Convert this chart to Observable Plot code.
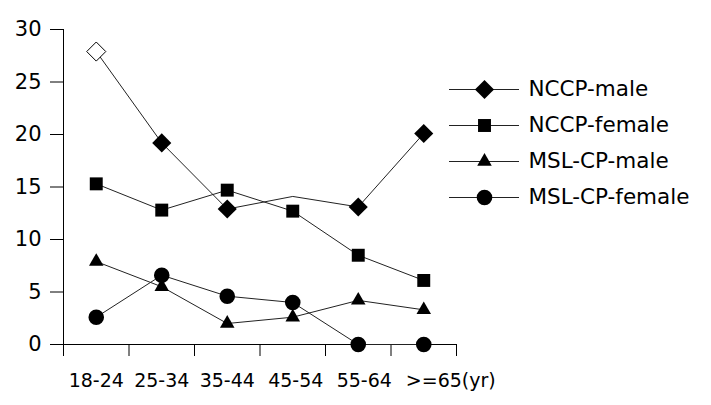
<!DOCTYPE html>
<html><head><meta charset="utf-8">
<script src="https://cdn.jsdelivr.net/npm/d3@7"></script>
<script src="https://cdn.jsdelivr.net/npm/@observablehq/plot@0.6"></script>
<style>
html,body{margin:0;padding:0;background:#fff;}
#wrap{position:relative;width:711px;height:405px;background:#fff;}
#wrap svg{position:absolute;left:0;top:0;}
</style></head><body><div id="wrap"></div>
<script>
const ageGroups = ["18-24","25-34","35-44","45-54","55-64",">=65(yr)"];
const seriesNames = ["NCCP-male","NCCP-female","MSL-CP-male","MSL-CP-female"];
const nccpMale = [27.9,19.2,12.9,14.1,13.1,20.1];
const nccpFemale = [15.3,12.8,14.7,12.7,8.5,6.1];
const mslMale = [7.9,5.5,2.0,2.6,4.2,3.3];
const mslFemale = [2.6,6.6,4.6,4.0,0,0];
const yTicks = [0,5,10,15,20,25,30];

const seriesValues = [nccpMale,nccpFemale,mslMale,mslFemale];
const symbolOf = {"NCCP-male":"diamond2","NCCP-female":"square","MSL-CP-male":"triangle","MSL-CP-female":"circle"};
const rOf = {"NCCP-male":8.6,"NCCP-female":7.3,"MSL-CP-male":5.4,"MSL-CP-female":7.8};

const rows = [];
seriesNames.forEach((s,k)=>seriesValues[k].forEach((v,i)=>rows.push({series:s, age:ageGroups[i], idx:i, pos:i+0.5, value:v})));

// marker display: first NCCP-male point is hollow, the 45-54 NCCP-male point has no marker
const filledRows = rows.filter(d => !(d.series==="NCCP-male" && (d.idx===0 || d.idx===3)));
const hollowRows = rows.filter(d => d.series==="NCCP-male" && d.idx===0);

const font = "'DejaVu Sans', Verdana, sans-serif";

const dotMarks = seriesNames.map(s => Plot.dot(filledRows.filter(d=>d.series===s), {
  x:"pos", y:"value", symbol: ()=>symbolOf[s], r: rOf[s], fill:"#000", stroke:"none"
}));

// category label axis, drawn in groups (the reference's labels drift right toward the end)
const labelAxis = (idxs, dx) => Plot.axisX({
  ticks: idxs.map(i=>i+0.5), tickSize:0, tickPadding:29, fontSize:19, label:null, dx,
  tickFormat: t => ageGroups[Math.round(t-0.5)]
});

const main = Plot.plot({
  width:711, height:405,
  marginLeft:63, marginRight:255, marginTop:29, marginBottom:61,
  style:{fontFamily:font, color:"#000", background:"transparent", overflow:"visible"},
  x:{type:"linear", domain:[0, ageGroups.length], label:null},
  y:{domain:[0,30], label:null},
  symbol:{type:"identity"},
  marks:[
    Plot.ruleY([0], {stroke:"#000"}),
    Plot.frame({anchor:"left", stroke:"#000"}),
    Plot.axisY({ticks:yTicks, tickSize:13, tickPadding:9, fontSize:21, label:null, stroke:"#000"}),
    Plot.axisX({ticks:d3.range(ageGroups.length+1), tickSize:12, tickFormat:()=>"", label:null, stroke:"#000"}),
    labelAxis([0,1,2], 0),
    labelAxis([3], 3),
    labelAxis([4], 6),
    labelAxis([5], 27),
    Plot.line(rows, {x:"pos", y:"value", z:"series", stroke:"#222", strokeWidth:1}),
    ...dotMarks,
    Plot.dot(hollowRows, {x:"pos", y:"value", symbol:()=>"diamond2", r:rOf["NCCP-male"], fill:"#fff", stroke:"#000", strokeWidth:1})
  ]
});

const legendRows = seriesNames.map(s=>({series:s}));
const legend = Plot.plot({
  width:711, height:405, margin:0,
  style:{fontFamily:font, color:"#000", background:"transparent", overflow:"visible"},
  x:{type:"linear", domain:[0,1], range:[449,519], axis:null},
  y:{type:"point", domain:seriesNames, range:[88.5,198], padding:0, axis:null},
  symbol:{type:"identity"},
  marks:[
    Plot.ruleY(legendRows, {y:"series", x1:()=>0, x2:()=>1, stroke:"#222", strokeWidth:1}),
    ...seriesNames.map(s=>Plot.dot(legendRows.filter(d=>d.series===s), {x:()=>0.5, y:"series", symbol:()=>symbolOf[s], r:rOf[s], fill:"#000"})),
    Plot.text(legendRows, {x:()=>1, y:"series", text:"series", textAnchor:"start", dx:9, fontSize:21.5, fill:"#000"})
  ]
});

const wrap = document.getElementById("wrap");
wrap.appendChild(main);
wrap.appendChild(legend);
</script></body></html>
